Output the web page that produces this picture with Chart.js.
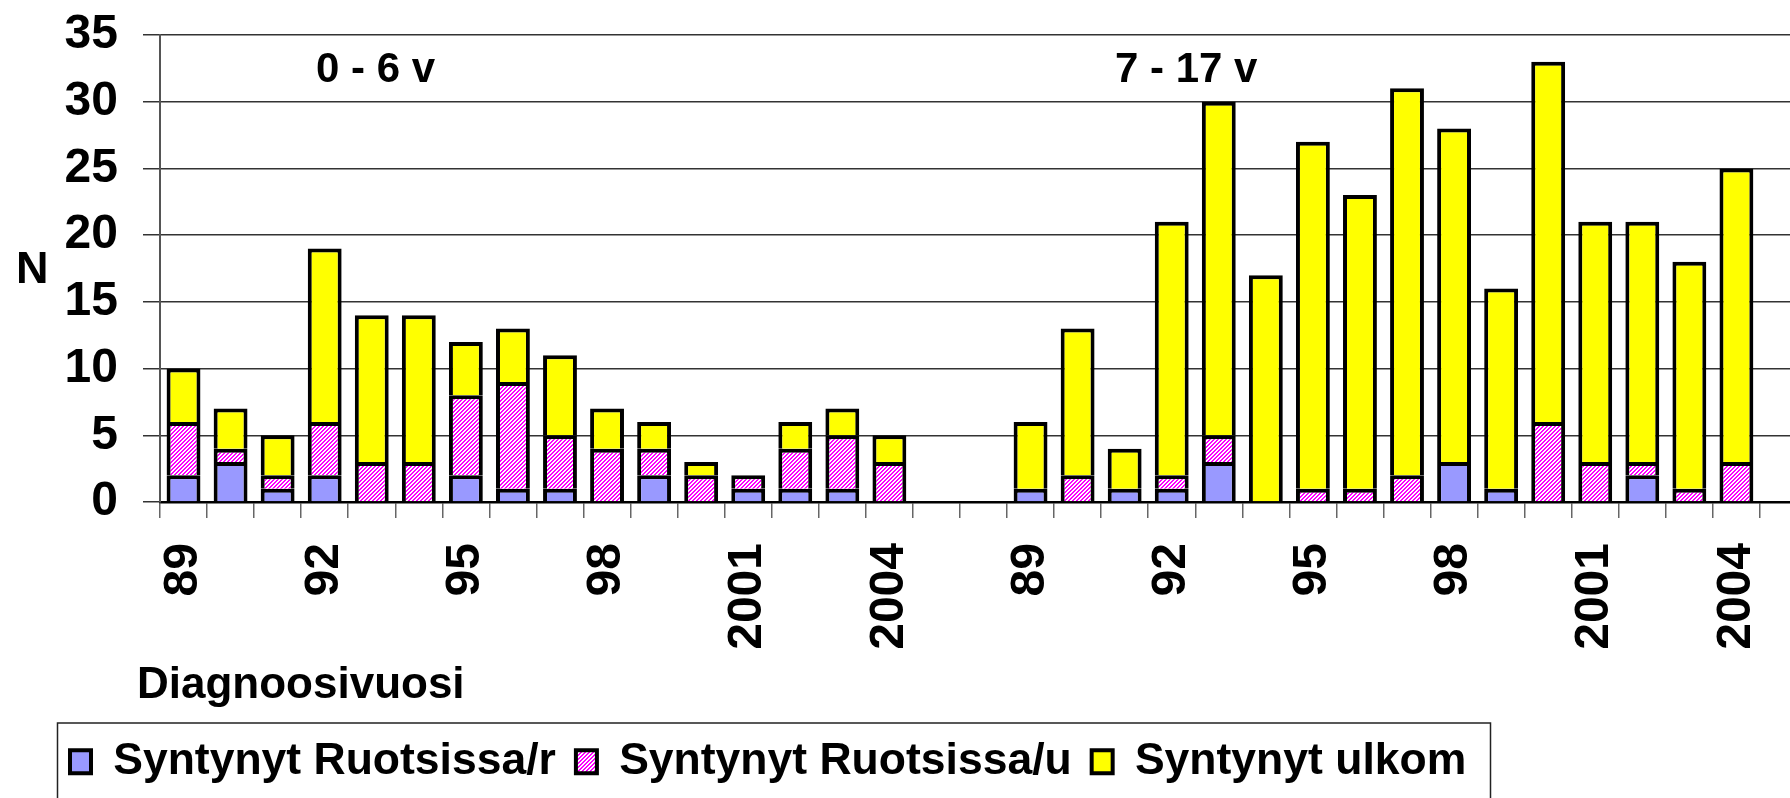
<!DOCTYPE html>
<html><head><meta charset="utf-8">
<script src="https://cdn.jsdelivr.net/npm/chart.js@4.4.0/dist/chart.umd.min.js"></script>
<style>
html,body{margin:0;padding:0;background:#fff;overflow:hidden;width:1790px;height:798px;}
#wrap{position:relative;width:1790px;height:798px;overflow:hidden;}
canvas{position:absolute;left:0;top:0;}
.lbl{position:absolute;font-family:'Liberation Sans',Arial,sans-serif;font-weight:bold;color:#000;line-height:1;white-space:nowrap;}
</style></head><body>
<div id="wrap">
<canvas id="c" width="1820" height="830"></canvas>
<div class="lbl" id="yTitle" style="left:16px;top:245px;font-size:45px;"></div>
<div class="lbl" id="g1" style="left:316px;top:47px;font-size:42px;"></div>
<div class="lbl" id="g2" style="left:1115px;top:47px;font-size:42px;"></div>
<div class="lbl" id="xTitle" style="left:137px;top:661px;font-size:44px;"></div>
</div>
<script>
const years = ['89','90','91','92','93','94','95','96','97','98','99','2000','2001','2002','2003','2004'];
const tickYears = ['89','92','95','98','2001','2004'];
const groupNames = ['0 - 6 v', '7 - 17 v'];
const seriesNames = ['Syntynyt Ruotsissa/r', 'Syntynyt Ruotsissa/u', 'Syntynyt ulkom'];
const yAxisTitle = 'N';
const xAxisTitle = 'Diagnoosivuosi';

// 0 - 6 v
const g1_r     = [2,3,1,2,0,0,2,1,1,0,2,0,1,1,1,0];
const g1_u     = [4,1,1,4,3,3,6,8,4,4,2,2,1,3,4,3];
const g1_ulkom = [4,3,3,13,11,11,4,4,6,3,2,1,0,2,2,2];
// 7 - 17 v
const g2_r     = [1,0,1,1,3,0,0,0,0,3,1,0,0,2,0,0];
const g2_u     = [0,2,0,1,2,0,1,1,2,0,0,6,3,1,1,3];
const g2_ulkom = [5,11,3,19,25,17,26,22,29,25,15,27,18,18,17,22];

const yMin = 0, yMax = 35, yStep = 5;

document.getElementById('yTitle').textContent = yAxisTitle;
document.getElementById('xTitle').textContent = xAxisTitle;
document.getElementById('g1').textContent = groupNames[0];
document.getElementById('g2').textContent = groupNames[1];

const labels = [...years, '', '', ...years, ''];
const join = (a, b) => [...a, null, null, ...b, null];

function makeHatch() {
  const c = document.createElement('canvas');
  c.width = 4; c.height = 4;
  const g = c.getContext('2d');
  g.fillStyle = '#ffffff'; g.fillRect(0, 0, 4, 4);
  g.fillStyle = '#ff00ff';
  for (let x = 0; x < 4; x++) for (let y = 0; y < 4; y++) {
    if ((x + y) % 4 < 2) g.fillRect(x, y, 1, 1);
  }
  return document.createElement('canvas').getContext('2d').createPattern(c, 'repeat');
}
const hatch = makeHatch();

const BOTTOM_PAD = 36;

const legendBox = {
  id: 'legendBox',
  afterDraw(chart) {
    const L = chart.legend; const ctx = chart.ctx;
    ctx.save();
    ctx.strokeStyle = '#222'; ctx.lineWidth = 1.5;
    ctx.strokeRect(L.left + 7.5, L.top + 3.5, 1433, 200);
    ctx.restore();
  }
};

Chart.defaults.font.family = "'Liberation Sans', Arial, sans-serif";
Chart.defaults.font.weight = 'bold';
Chart.defaults.color = '#000';

new Chart(document.getElementById('c'), {
  type: 'bar',
  data: {
    labels: labels,
    datasets: [
      { label: seriesNames[0], data: join(g1_r, g2_r), backgroundColor: '#9999ff', borderColor: '#000', borderWidth: 4 },
      { label: seriesNames[1], data: join(g1_u, g2_u), backgroundColor: hatch, borderColor: '#000', borderWidth: 4 },
      { label: seriesNames[2], data: join(g1_ulkom, g2_ulkom), backgroundColor: '#ffff00', borderColor: '#000', borderWidth: 4 }
    ]
  },
  options: {
    responsive: false,
    animation: false,
    layout: { padding: { left: 50, top: 35, right: 13, bottom: BOTTOM_PAD } },
    datasets: { bar: { barPercentage: 0.72, categoryPercentage: 1, borderSkipped: 'start' } },
    plugins: {
      legend: {
        position: 'bottom', align: 'start',
        labels: { font: { size: 44.5, weight: 'bold' }, color: '#000', boxWidth: 21, boxHeight: 23, padding: 20 }
      },
      tooltip: { enabled: false }
    },
    scales: {
      x: {
        stacked: true,
        grid: { offset: true, drawOnChartArea: false, drawTicks: true, tickLength: 16, color: '#666', lineWidth: 1.5 },
        border: { display: true, color: '#000', width: 2.5 },
        ticks: {
          autoSkip: false, minRotation: 90, maxRotation: 90, padding: 25,
          font: { size: 48, weight: 'bold' }, color: '#000',
          callback(v) { const l = this.getLabelForValue(v); return tickYears.includes(l) ? l : ''; }
        },
        afterFit(s) { s.paddingLeft = 0; s.paddingRight = 0; s.height = s.chart.height - BOTTOM_PAD - s.chart.legend.height - 502; }
      },
      y: {
        stacked: true, min: yMin, max: yMax,
        ticks: { stepSize: yStep, padding: 25, font: { size: 48, weight: 'bold' }, color: '#000' },
        grid: { color: '#333', lineWidth: 1.5, tickLength: 17 },
        border: { color: '#555', width: 2 },
        afterFit(s) { s.width = 110; s.paddingTop = 0; s.paddingBottom = 0; }
      }
    }
  },
  plugins: [legendBox]
});
</script>
</body></html>
